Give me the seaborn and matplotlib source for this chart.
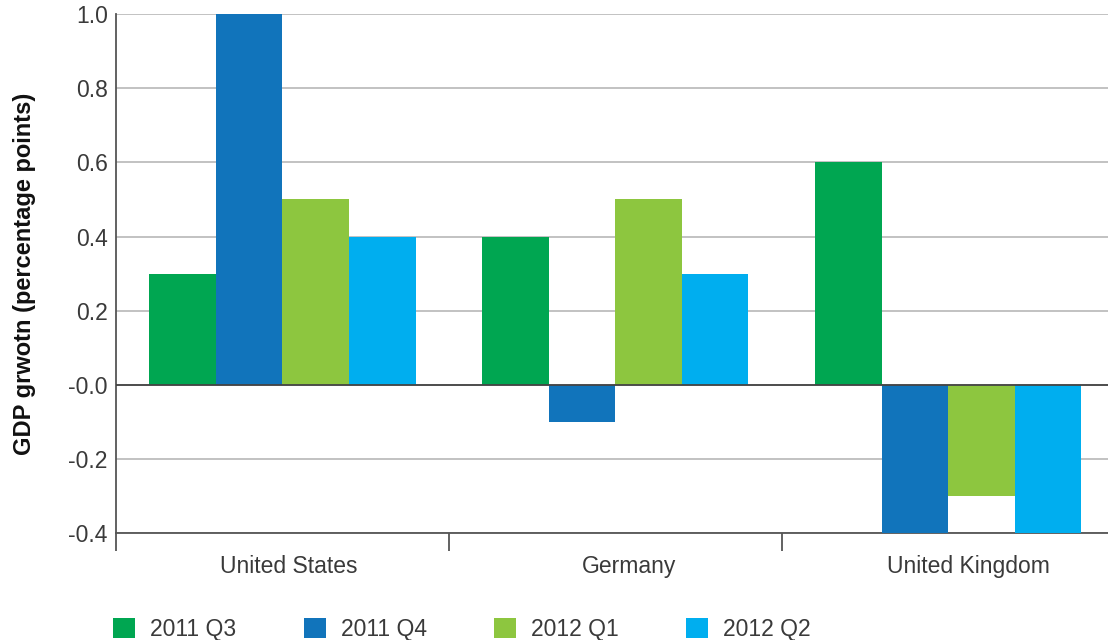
import pandas as pd
import numpy as np
import matplotlib
matplotlib.use('Agg')
import matplotlib.pyplot as plt
import seaborn as sns

# values (bars are clipped by the axis range)
countries = ['United States', 'Germany', 'United Kingdom']
quarters = ['2011 Q3', '2011 Q4', '2012 Q1', '2012 Q2']
q3_2011 = [0.3, 0.4, 0.6]
q4_2011 = [1.0, -0.1, -0.4]
q1_2012 = [0.5, 0.5, -0.3]
q2_2012 = [0.4, 0.3, -0.4]
colors = ['#00a651', '#1174bb', '#8dc63f', '#00aeef']
yticks = [-0.4, -0.2, 0.0, 0.2, 0.4, 0.6, 0.8, 1.0]
ytick_labels = ['-0.4', '-0.2', '-0.0', '0.2', '0.4', '0.6', '0.8', '1.0']

rows = []
for q, vals in zip(quarters, [q3_2011, q4_2011, q1_2012, q2_2012]):
    for c, v in zip(countries, vals):
        rows.append({'country': c, 'quarter': q, 'value': v})
df = pd.DataFrame(rows)

sns.set_style('white')
plt.rcParams['font.family'] = ['Liberation Sans', 'DejaVu Sans']
txt = '#3a3a3a'

fig = plt.figure(figsize=(11.08, 6.40), dpi=100)
ax = fig.add_axes([0.1047, 0.167, 0.8953, 0.811])

sns.barplot(data=df, x='country', y='value', hue='quarter', order=countries,
            hue_order=quarters, palette=colors, width=0.8, saturation=1,
            errorbar=None, ax=ax, zorder=3, edgecolor='none')

ax.set_ylim(-0.4, 1.0)
ax.set_xlim(-0.5, 2.48)
ax.set_yticks(yticks)
ax.set_yticklabels(ytick_labels)
ax.yaxis.grid(True, color='#b8b8b8', linewidth=1.2, zorder=0)
ax.axhline(0, color='#444444', linewidth=1.3, zorder=4)

for s in ['top', 'right']:
    ax.spines[s].set_visible(False)
ax.spines['left'].set_color('#555555')
ax.spines['bottom'].set_color('#555555')
ax.spines['left'].set_linewidth(1.3)
ax.spines['bottom'].set_linewidth(1.3)

# labels sit a little right of the bar groups in the original
ax.set_xticks([0.02, 1.04, 2.06])
ax.set_xticklabels(countries, fontsize=16.5, color=txt)
ax.tick_params(axis='x', which='major', length=0, pad=16)
# ticks at group boundaries
ax.set_xticks([-0.5, 0.5, 1.5], minor=True)
ax.tick_params(axis='x', which='minor', bottom=True, length=13, width=1.3,
               color='#555555', direction='out')
ax.tick_params(axis='y', length=0, labelsize=16.5, labelcolor=txt, pad=6)

ax.set_xlabel('')
ax.set_ylabel('GDP grwotn (percentage points)', fontsize=17, fontweight='bold',
              color='#111111', labelpad=23)

handles, labels = ax.get_legend_handles_labels()
ax.legend_.remove()
fig.legend(handles, labels, loc='center left', bbox_to_anchor=(0.102, 0.017),
           ncol=4, frameon=False, fontsize=16.5, handlelength=0.96, handleheight=0.96,
           handletextpad=0.65, columnspacing=2.95, borderpad=0, borderaxespad=0,
           labelcolor=txt)

fig.savefig('out.png', dpi=100)
